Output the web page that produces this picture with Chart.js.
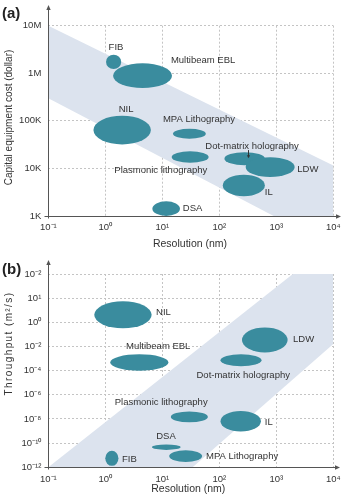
<!DOCTYPE html>
<html><head><meta charset="utf-8">
<script src="https://cdn.jsdelivr.net/npm/chart.js@4.4.1/dist/chart.umd.min.js"></script>
<style>html,body{margin:0;padding:0;background:#fff}canvas{display:block}</style>
</head><body>
<canvas id="ca" width="347" height="250"></canvas>
<canvas id="cb" width="347" height="250"></canvas>
<script>
// ---------- shared axis ----------
const X_TICKS = [0.1, 1, 10, 100, 1000, 10000];
const X_TICK_LABELS = ['10⁻¹', '10⁰', '10¹', '10²', '10³', '10⁴'];

// ---------- panel (a): capital equipment cost ----------
const A_METHODS = ['FIB', 'Multibeam EBL', 'NIL', 'MPA Lithography', 'Plasmonic lithography', 'Dot-matrix holography', 'LDW', 'IL', 'DSA'];
const A_RES_MIN = [1.03, 1.37, 0.62, 15.4, 14.6, 123, 290, 115, 6.7];
const A_RES_MAX = [1.9, 14.8, 6.3, 58, 65, 630, 2100, 630, 20.4];
const A_COST_MIN = [1.23e6, 4.9e5, 3.2e4, 4.2e4, 1.32e4, 1.17e4, 6.6e3, 2.6e3, 1.0e3];
const A_COST_MAX = [2.45e6, 1.62e6, 1.28e5, 6.8e4, 2.3e4, 2.2e4, 1.72e4, 7.4e3, 2.04e3];
const A_LABEL_X = [1.54, 52, 2.31, 44, 9.4, 375, 3570, 738, 34];
const A_LABEL_Y = [3.58e6, 1.86e6, 1.74e5, 1.06e5, 9.2e3, 2.86e4, 9.5e3, 3.2e3, 1.42e3];
const A_Y_TICKS = [1e3, 1e4, 1e5, 1e6, 1e7];
const A_Y_TICK_LABELS = ['1K', '10K', '100K', '1M', '10M'];
const A_BAND_UPPER = [[0.1, 1e7], [1e4, 1.15e4]];
const A_BAND_LOWER = [[0.1, 3e5], [900, 1e3], [1e4, 1e3]];
const A_POINTER = [[316, 2.43e4, 1.63e4]]; // x, from y, to y

// ---------- panel (b): throughput (y in tick-position units of the printed axis) ----------
const B_METHODS = ['NIL', 'LDW', 'Multibeam EBL', 'Dot-matrix holography', 'Plasmonic lithography', 'IL', 'DSA', 'MPA Lithography', 'FIB'];
const B_RES_MIN = [0.64, 250, 1.22, 105, 14.1, 105, 6.6, 13.2, 1.0];
const B_RES_MAX = [6.5, 1580, 12.8, 550, 63, 537, 20.9, 50, 1.7];
const B_TP_MIN = [5.75, 4.75, 4.0, 4.18, 1.86, 1.48, 0.72, 0.22, 0.06];
const B_TP_MAX = [6.87, 5.79, 4.68, 4.68, 2.31, 2.33, 0.94, 0.71, 0.68];
const B_LABEL_X = [10.5, 3006, 8.47, 263, 9.55, 738, 11.6, 251, 2.64];
const B_LABEL_Y = [6.416, 5.28, 5.0, 3.79, 2.69, 1.86, 1.29, 0.46, 0.32];
const B_Y_TICK_LABELS = ['10⁻¹²', '10⁻¹⁰', '10⁻⁸', '10⁻⁶', '10⁻⁴', '10⁻²', '10⁰', '10¹', '10⁻²'];
const B_BAND_UPPER = [[0.1, 0], [1950, 8], [1e4, 8]];
const B_BAND_LOWER = [[0.1, 0], [34, 0], [1e4, 5.1]];

// ---------- styles ----------
const FONT = "'Liberation Sans', Arial, sans-serif";
const TEAL = '#3a8c9e';
const BAND = '#dce3ee';
const GRID = '#c4c4c4';
const AXIS = '#555555';
const TEXT = '#333333';

const decor = {
  id: 'decor',
  afterDatasetsDraw(chart, args, o) {
    const {ctx, chartArea: a, scales: {x, y}} = chart;
    ctx.save();
    ctx.beginPath(); ctx.rect(a.left, a.top - 1, a.right - a.left, a.bottom - a.top + 1); ctx.clip();
    ctx.fillStyle = TEAL;
    for (let i = 0; i < o.xMin.length; i++) {
      const x1 = x.getPixelForValue(o.xMin[i]), x2 = x.getPixelForValue(o.xMax[i]);
      const y1 = y.getPixelForValue(o.yMin[i]), y2 = y.getPixelForValue(o.yMax[i]);
      ctx.beginPath();
      ctx.ellipse((x1 + x2) / 2, (y1 + y2) / 2, Math.abs(x2 - x1) / 2, Math.abs(y2 - y1) / 2, 0, 0, Math.PI * 2);
      ctx.fill();
    }
    ctx.restore();

    ctx.save();
    // axes with arrows
    ctx.strokeStyle = AXIS; ctx.fillStyle = AXIS; ctx.lineWidth = 1;
    const L = Math.round(a.left) + 0.5, B = Math.round(a.bottom) + 0.5;
    ctx.beginPath(); ctx.moveTo(L, B + 2); ctx.lineTo(L, o.arrowTop + 3); ctx.stroke();
    ctx.beginPath(); ctx.moveTo(L, o.arrowTop); ctx.lineTo(L - 2.2, o.arrowTop + 5); ctx.lineTo(L + 2.2, o.arrowTop + 5); ctx.closePath(); ctx.fill();
    ctx.beginPath(); ctx.moveTo(L - 4, B); ctx.lineTo(o.arrowRight - 3, B); ctx.stroke();
    ctx.beginPath(); ctx.moveTo(o.arrowRight, B); ctx.lineTo(o.arrowRight - 5, B - 2.2); ctx.lineTo(o.arrowRight - 5, B + 2.2); ctx.closePath(); ctx.fill();

    // pointers
    (o.pointers || []).forEach(p => {
      const px = Math.round(x.getPixelForValue(p[0])) + 0.5;
      const y1 = y.getPixelForValue(p[1]), y2 = y.getPixelForValue(p[2]);
      ctx.strokeStyle = '#333'; ctx.fillStyle = '#333';
      ctx.beginPath(); ctx.moveTo(px, y1); ctx.lineTo(px, y2 - 2); ctx.stroke();
      ctx.beginPath(); ctx.moveTo(px, y2); ctx.lineTo(px - 1.6, y2 - 3); ctx.lineTo(px + 1.6, y2 - 3); ctx.closePath(); ctx.fill();
    });

    // method labels
    ctx.fillStyle = TEXT; ctx.textAlign = 'center'; ctx.textBaseline = 'middle';
    ctx.font = '9.5px ' + FONT;
    o.names.forEach((n, i) => {
      ctx.fillText(n, x.getPixelForValue(o.lx[i]), y.getPixelForValue(o.ly[i]));
    });

    // axis titles
    ctx.font = '10.5px ' + FONT;
    ctx.fillText(o.xTitle, o.xTitlePos[0], o.xTitlePos[1]);
    ctx.save();
    ctx.translate(o.yTitlePos[0], o.yTitlePos[1]);
    ctx.rotate(-Math.PI / 2);
    ctx.font = '10px ' + FONT;
    if (o.yTitleSpacing) ctx.letterSpacing = o.yTitleSpacing + 'px';
    ctx.fillText(o.yTitle, 0, 0);
    ctx.restore();

    // panel letter
    ctx.font = 'bold 15px ' + FONT; ctx.textAlign = 'left'; ctx.fillStyle = '#222';
    ctx.fillText(o.panel, o.panelPos[0], o.panelPos[1]);
    ctx.restore();
  }
};

function bandSets(upper, lower) {
  return [
    {data: upper.map(p => ({x: p[0], y: p[1]})), showLine: true, fill: '+1', backgroundColor: BAND,
     borderWidth: 0, borderColor: 'rgba(0,0,0,0)', pointRadius: 0, tension: 0},
    {data: lower.map(p => ({x: p[0], y: p[1]})), showLine: true, fill: false,
     borderWidth: 0, borderColor: 'rgba(0,0,0,0)', pointRadius: 0, tension: 0}
  ];
}

function xScale(h) {
  return {
    type: 'logarithmic', min: 0.1, max: 1e4,
    afterBuildTicks: s => { s.ticks = X_TICKS.map(v => ({value: v})); },
    afterFit: s => { s.height = h; },
    ticks: {callback: (v, i) => X_TICK_LABELS[i], font: {family: FONT, size: 9.5}, color: TEXT,
            padding: 6, autoSkip: false, maxRotation: 0},
    grid: {color: GRID, drawTicks: false, lineWidth: 1},
    border: {display: false, dash: [2, 2]}
  };
}

const common = {
  responsive: false, animation: false, events: [],
  plugins: {legend: {display: false}, tooltip: {enabled: false}}
};

new Chart(document.getElementById('ca'), {
  type: 'scatter',
  data: {datasets: bandSets(A_BAND_UPPER, A_BAND_LOWER)},
  options: Object.assign({}, common, {
    layout: {padding: {top: 25.7, right: 13.7, left: 0, bottom: 0}},
    scales: {
      x: xScale(34),
      y: {
        type: 'logarithmic', min: 1e3, max: 1e7,
        afterBuildTicks: s => { s.ticks = A_Y_TICKS.map(v => ({value: v})); },
        afterFit: s => { s.width = 48.3; },
        ticks: {callback: (v, i) => A_Y_TICK_LABELS[i], font: {family: FONT, size: 9.5}, color: TEXT, padding: 7, autoSkip: false},
        grid: {color: GRID, drawTicks: false, lineWidth: 1},
        border: {display: false, dash: [2, 2]}
      }
    },
    plugins: Object.assign({}, common.plugins, {
      decor: {
        xMin: A_RES_MIN, xMax: A_RES_MAX, yMin: A_COST_MIN, yMax: A_COST_MAX,
        names: A_METHODS, lx: A_LABEL_X, ly: A_LABEL_Y, pointers: A_POINTER,
        arrowTop: 5, arrowRight: 341,
        xTitle: 'Resolution (nm)', xTitlePos: [190, 244],
        yTitle: 'Capital equipment cost (dollar)', yTitlePos: [9, 117.5],
        panel: '(a)', panelPos: [2, 13.5]
      }
    })
  }),
  plugins: [decor]
});

new Chart(document.getElementById('cb'), {
  type: 'scatter',
  data: {datasets: bandSets(B_BAND_UPPER, B_BAND_LOWER)},
  options: Object.assign({}, common, {
    layout: {padding: {top: 24, right: 13.7, left: 0, bottom: 0}},
    scales: {
      x: xScale(32.7),
      y: {
        type: 'linear', min: 0, max: 8,
        afterBuildTicks: s => { s.ticks = B_Y_TICK_LABELS.map((_, i) => ({value: i})); },
        afterFit: s => { s.width = 48.3; },
        ticks: {callback: (v, i) => B_Y_TICK_LABELS[i], font: {family: FONT, size: 9.5}, color: TEXT, padding: 7, autoSkip: false},
        grid: {color: GRID, drawTicks: false, lineWidth: 1},
        border: {display: false, dash: [2, 2]}
      }
    },
    plugins: Object.assign({}, common.plugins, {
      decor: {
        xMin: B_RES_MIN, xMax: B_RES_MAX, yMin: B_TP_MIN, yMax: B_TP_MAX,
        names: B_METHODS, lx: B_LABEL_X, ly: B_LABEL_Y, pointers: [],
        arrowTop: 10, arrowRight: 340,
        xTitle: 'Resolution (nm)', xTitlePos: [188.3, 239.5],
        yTitle: 'Throughput (m²/s)', yTitlePos: [9, 93.5], yTitleSpacing: 1.4,
        panel: '(b)', panelPos: [2, 20]
      }
    })
  }),
  plugins: [decor]
});
</script>
</body></html>
